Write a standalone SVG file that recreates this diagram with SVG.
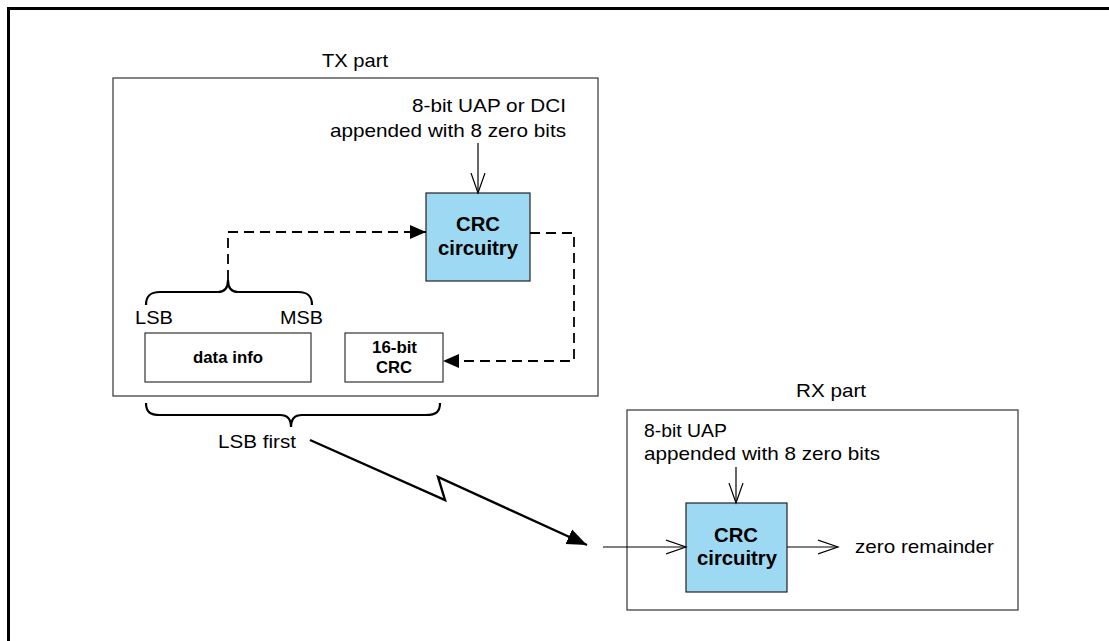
<svg xmlns="http://www.w3.org/2000/svg" width="1109" height="641" viewBox="0 0 1109 641">
<style>
text{font-family:"Liberation Sans",Arial,sans-serif;fill:#000}
.t{font-size:19px}
.b{font-weight:bold}
.cb{font-weight:bold;font-size:19.5px}
.sb{font-weight:bold;font-size:16.5px}
.box{fill:#fff;stroke:#333;stroke-width:1.2}
.crc{fill:#9ed9f3;stroke:#222;stroke-width:1.2}
.ln{fill:none;stroke:#000;stroke-width:1.2}
.dash{fill:none;stroke:#000;stroke-width:1.8;stroke-dasharray:10 6}
.brace{fill:none;stroke:#000;stroke-width:2.2}
</style>
<defs>
<marker id="open" markerWidth="22" markerHeight="18" refX="20" refY="8" orient="auto" markerUnits="userSpaceOnUse">
<path d="M0,1 L20,8 L0,15" fill="none" stroke="#000" stroke-width="1.2"/>
</marker>
<marker id="fill" markerWidth="18" markerHeight="16" refX="16" refY="8" orient="auto" markerUnits="userSpaceOnUse">
<path d="M0,1 L16,8 L0,15 Z" fill="#000"/>
</marker>
<marker id="big" markerWidth="22" markerHeight="18" refX="20" refY="9" orient="auto" markerUnits="userSpaceOnUse">
<path d="M0,1 L20,9 L0,17 Z" fill="#000"/>
</marker>
</defs>
<rect width="1109" height="641" fill="#fff"/>
<path d="M8.5,641 L8.5,8.5 L1109,8.5" fill="none" stroke="#000" stroke-width="3"/>

<g id="tx-part">
<rect class="box" x="113" y="78" width="485" height="318"/>
<text class="t" x="322" y="67" textLength="66" lengthAdjust="spacingAndGlyphs">TX part</text>
</g>
<g id="tx-input-label">
<text class="t" x="412" y="112" textLength="154" lengthAdjust="spacingAndGlyphs">8-bit UAP or DCI</text>
<text class="t" x="330" y="137" textLength="236" lengthAdjust="spacingAndGlyphs">appended with 8 zero bits</text>
</g>
<g id="tx-crc">
<rect class="crc" x="426" y="193" width="104" height="88"/>
<text class="cb" x="456" y="231" textLength="44" lengthAdjust="spacingAndGlyphs">CRC</text>
<text class="cb" x="438" y="255" textLength="80" lengthAdjust="spacingAndGlyphs">circuitry</text>
</g>
<g id="data-info">
<rect class="box" x="145" y="333" width="166" height="49"/>
<text class="sb" x="193" y="363" textLength="70" lengthAdjust="spacingAndGlyphs">data info</text>
</g>
<g id="crc16">
<rect class="box" x="345" y="333" width="98" height="49"/>
<text class="sb" x="372" y="353" textLength="45" lengthAdjust="spacingAndGlyphs">16-bit</text>
<text class="sb" x="376" y="373" textLength="36" lengthAdjust="spacingAndGlyphs">CRC</text>
</g>
<g id="lsb-msb">
<text class="t" x="135" y="324" textLength="38" lengthAdjust="spacingAndGlyphs">LSB</text>
<text class="t" x="280" y="324" textLength="43" lengthAdjust="spacingAndGlyphs">MSB</text>
<path class="brace" d="M146,305 C146,296 150,292 160,292 L218,292 C225,292 228,288 228,280 C228,288 231,292 238,292 L298,292 C308,292 312,296 312,305"/>
</g>
<g id="lsb-first">
<path class="brace" d="M146,403 C146,412 150,415 160,415 L280,415 C287,415 291,419 291,427 C291,419 295,415 302,415 L426,415 C436,415 440,412 440,403"/>
<text class="t" x="218" y="448" textLength="78" lengthAdjust="spacingAndGlyphs">LSB first</text>
</g>

<g id="rx-part">
<rect class="box" x="627" y="410" width="391" height="200"/>
<text class="t" x="796" y="397" textLength="70" lengthAdjust="spacingAndGlyphs">RX part</text>
</g>
<g id="rx-input-label">
<text class="t" x="644" y="437" textLength="83" lengthAdjust="spacingAndGlyphs">8-bit UAP</text>
<text class="t" x="644" y="460" textLength="236" lengthAdjust="spacingAndGlyphs">appended with 8 zero bits</text>
</g>
<g id="rx-crc">
<rect class="crc" x="686" y="503" width="101" height="89"/>
<text class="cb" x="714" y="542" textLength="44" lengthAdjust="spacingAndGlyphs">CRC</text>
<text class="cb" x="697" y="565" textLength="80" lengthAdjust="spacingAndGlyphs">circuitry</text>
</g>
<g id="zero-remainder">
<text class="t" x="855" y="553" textLength="139" lengthAdjust="spacingAndGlyphs">zero remainder</text>
</g>

<g id="connectors">
<line class="ln" x1="478" y1="143" x2="478" y2="193" marker-end="url(#open)"/>
<path class="dash" d="M228,280 L228,232 L426,232" marker-end="url(#fill)"/>
<path class="dash" d="M530,233 L574,233 L574,361 L443,361" marker-end="url(#fill)"/>
<path d="M310,440 L445,500 L438,477 L587,545" fill="none" stroke="#000" stroke-width="2.4" stroke-linejoin="miter" marker-end="url(#big)"/>
<line class="ln" x1="736" y1="467" x2="736" y2="503" marker-end="url(#open)"/>
<line class="ln" x1="603" y1="547" x2="686" y2="547" marker-end="url(#open)"/>
<line class="ln" x1="787" y1="547" x2="838" y2="547" marker-end="url(#open)"/>
</g>
</svg>
